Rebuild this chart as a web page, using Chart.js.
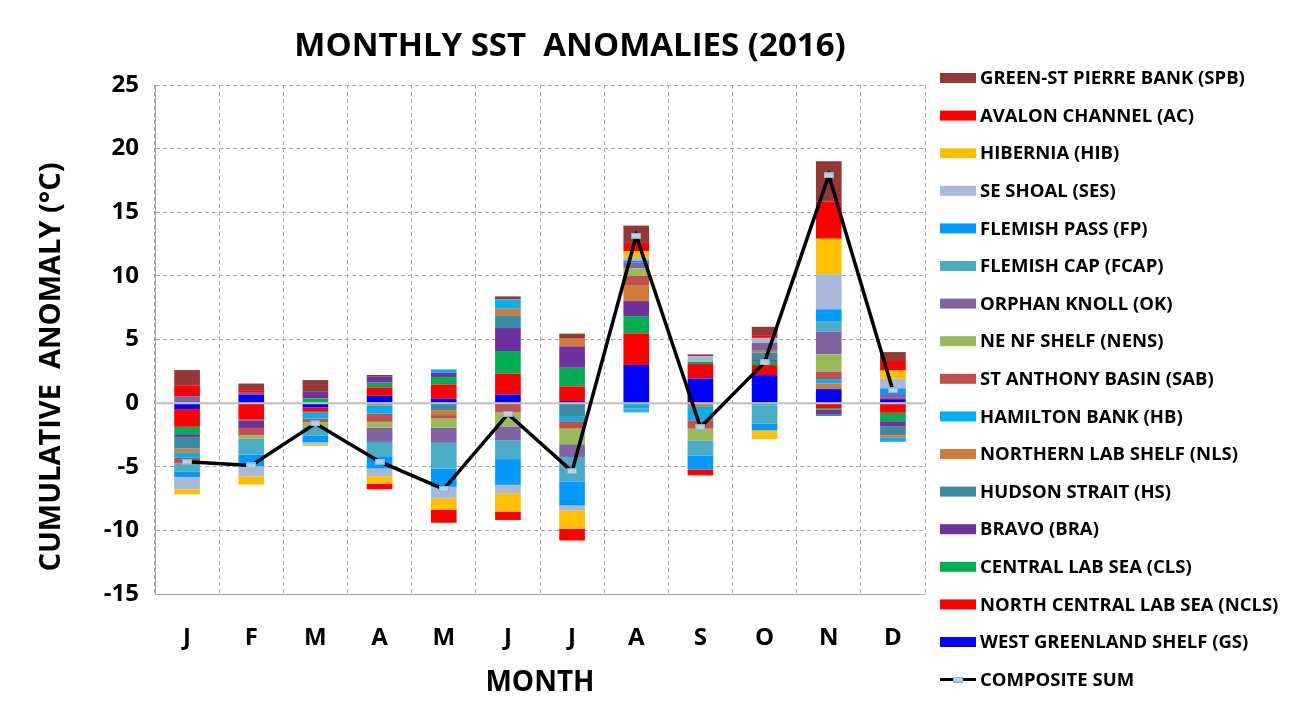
<!DOCTYPE html>
<html>
<head>
<meta charset="utf-8">
<script src="https://cdn.jsdelivr.net/npm/chart.js@4.4.1/dist/chart.umd.min.js"></script>
<style>
html, body { margin: 0; padding: 0; background: #fff; }
</style>
</head>
<body>
<canvas id="sstChart" width="1290" height="706"></canvas>
<script>
// Monthly SST anomalies 2016, one array per region (bottom of the stack first)
var months = ['J', 'F', 'M', 'A', 'M', 'J', 'J', 'A', 'S', 'O', 'N', 'D'];
var yTicks = [-15, -10, -5, 0, 5, 10, 15, 20, 25];

var gs   = [-0.47, 0.68, -0.34, 0.58, 0.34, 0.68, 0.16, 2.99, 1.94, 2.20, 1.10, 0.31];
var ncls = [-1.39, -1.30, -0.34, 0.66, 1.13, 1.63, 1.15, 2.49, 1.13, 0.79, -0.39, -0.76];
var cls  = [-0.58, -0.05, 0.37, 0.37, 0.58, 1.78, 1.47, 1.36, 0.18, 0.26, -0.13, -0.66];
var bra  = [-0.21, -0.60, 0.52, 0.47, 0.34, 1.81, 1.68, 1.18, -0.10, 0.13, -0.34, -0.39];
var hs   = [-0.92, 0, -0.08, 0, -0.55, 1.00, -1.08, 0, 0, 0.60, -0.15, -0.71];
var nls  = [-0.34, 0, 0, -0.18, -0.39, 0.52, 0.66, 1.26, -0.20, 0.13, 0.45, -0.21];
var hb   = [-0.39, 0, -0.45, -0.63, 0.26, 0.73, -0.34, -0.42, -1.05, -0.20, 0.34, -0.31];
var sab  = [-0.44, -0.58, -0.27, -0.66, -0.26, -0.73, -0.58, 0.71, -0.66, 0, 0.58, 0.10];
var nens = [0, -0.26, -0.39, -0.45, -0.74, -1.10, -1.23, 0.60, -0.92, 0, 1.36, 0];
var ok   = [0.55, 0.13, 0, -1.13, -1.18, -1.10, -1.00, 0.44, 0, 0.63, 1.78, 0.30];
var fcap = [-0.66, -1.26, -0.66, -1.12, -2.02, -1.47, -1.92, -0.31, -1.18, -1.42, 0.84, 0];
var fp   = [-0.40, -0.91, -0.53, -0.97, -1.44, -2.02, -1.89, 0.18, -1.10, -0.52, 0.92, 0.45];
var ses  = [-0.97, -0.79, -0.18, -0.60, -0.92, -0.66, -0.39, 0.20, 0.45, 0.39, 2.76, 0.75];
var hib  = [-0.40, -0.65, -0.13, -0.58, -0.90, -1.44, -1.44, 0.52, 0, -0.68, 2.78, 0.65];
var ac   = [0.85, 0.21, 0, -0.45, -1.00, -0.66, -0.92, 0.66, -0.47, 0.21, 2.94, 0.75];
var spb  = [1.20, 0.52, 0.92, 0.13, 0, 0.24, 0.34, 1.36, 0.13, 0.66, 3.15, 0.70];

var compositeSum = [-4.6, -4.9, -1.6, -4.6, -6.75, -0.85, -5.35, 13.15, -1.9, 3.2, 17.9, 1.0];

var regions = [
    ['WEST GREENLAND SHELF (GS)', gs, '#0000FF'],
    ['NORTH CENTRAL LAB SEA (NCLS)', ncls, '#FF0000'],
    ['CENTRAL LAB SEA (CLS)', cls, '#00B050'],
    ['BRAVO (BRA)', bra, '#7030A0'],
    ['HUDSON STRAIT (HS)', hs, '#3A8BA1'],
    ['NORTHERN LAB SHELF (NLS)', nls, '#CF7B3A'],
    ['HAMILTON BANK (HB)', hb, '#00B0F0'],
    ['ST ANTHONY BASIN (SAB)', sab, '#C0504D'],
    ['NE NF SHELF (NENS)', nens, '#9BBB59'],
    ['ORPHAN KNOLL (OK)', ok, '#8064A2'],
    ['FLEMISH CAP (FCAP)', fcap, '#4BACC6'],
    ['FLEMISH PASS (FP)', fp, '#0099FF'],
    ['SE SHOAL (SES)', ses, '#A8B9D9'],
    ['HIBERNIA (HIB)', hib, '#FFC000'],
    ['AVALON CHANNEL (AC)', ac, '#FF0000'],
    ['GREEN-ST PIERRE BANK (SPB)', spb, '#953735']
];

// little light blue dash used as the composite marker
function makeMarker() {
    var c = document.createElement('canvas');
    c.width = 10;
    c.height = 6;
    var g = c.getContext('2d');
    g.fillStyle = '#B7D3E8';
    g.fillRect(0, 0, 10, 6);
    g.strokeStyle = '#8FAFC6';
    g.lineWidth = 1;
    g.strokeRect(0.5, 0.5, 9, 5);
    return c;
}
var marker = makeMarker();

var FONT = '"Open Sans", "DejaVu Sans", sans-serif';

// zero line sits over the bars but under the composite line
var zeroLine = {
    id: 'zeroLine',
    beforeDatasetDraw: function(chart, args) {
        if (args.index !== 0) return;
        var y = chart.scales.y.getPixelForValue(0);
        var area = chart.chartArea;
        var ctx = chart.ctx;
        ctx.save();
        ctx.strokeStyle = '#BFBFBF';
        ctx.lineWidth = 2;
        ctx.beginPath();
        ctx.moveTo(area.left, y);
        ctx.lineTo(area.right, y);
        ctx.stroke();
        ctx.restore();
    }
};

// title, y axis title and the side legend
var texts = {
    id: 'texts',
    afterDraw: function(chart) {
        var ctx = chart.ctx;
        var area = chart.chartArea;
        ctx.save();
        ctx.fillStyle = '#000';
        ctx.textAlign = 'center';
        ctx.textBaseline = 'middle';
        ctx.font = 'bold 33px ' + FONT;
        ctx.fillText('MONTHLY SST  ANOMALIES (2016)', 570, 47);

        ctx.save();
        ctx.translate(52, 367);
        ctx.rotate(-Math.PI / 2);
        ctx.font = 'bold 29px ' + FONT;
        ctx.fillText('CUMULATIVE  ANOMALY (\u00B0C)', 0, 0);
        ctx.restore();

        // legend, reversed like Excel does for stacked columns
        var sets = chart.data.datasets;
        var x = area.right + 15;
        var y = 78;
        var step = 37.6;
        ctx.textAlign = 'left';
        ctx.font = 'bold 18.5px ' + FONT;
        for (var i = sets.length - 1; i >= 1; i--) {
            ctx.fillStyle = sets[i].backgroundColor;
            ctx.fillRect(x, y - 5, 36, 10);
            ctx.fillStyle = '#000';
            ctx.fillText(sets[i].label, x + 40, y + 1);
            y += step;
        }
        ctx.strokeStyle = '#000';
        ctx.lineWidth = 3;
        ctx.beginPath();
        ctx.moveTo(x, y);
        ctx.lineTo(x + 36, y);
        ctx.stroke();
        ctx.drawImage(marker, x + 13, y - 3);
        ctx.fillStyle = '#000';
        ctx.fillText(sets[0].label, x + 40, y + 1);
        ctx.restore();
    }
};

function buildDatasets() {
    var list = [{
        type: 'line',
        label: 'COMPOSITE SUM',
        data: compositeSum,
        stack: 'sum',
        borderColor: '#000',
        backgroundColor: '#000',
        borderWidth: 3.5,
        pointStyle: marker,
        pointRadius: 5,
        tension: 0,
        fill: false
    }];
    for (var i = 0; i < regions.length; i++) {
        list.push({
            type: 'bar',
            label: regions[i][0],
            data: regions[i][1],
            stack: 'anom',
            backgroundColor: regions[i][2],
            borderWidth: 0,
            barPercentage: 0.4,
            categoryPercentage: 1
        });
    }
    return list;
}

function initializeChart() {
    var ctx = document.getElementById('sstChart').getContext('2d');
    new Chart(ctx, {
        data: {
            labels: months,
            datasets: buildDatasets()
        },
        plugins: [zeroLine, texts],
        options: {
            responsive: false,
            animation: false,
            layout: { padding: { left: 36, right: 365, top: 85, bottom: 5 } },
            plugins: {
                legend: { display: false },
                title: { display: false },
                tooltip: { enabled: false }
            },
            scales: {
                x: {
                    stacked: true,
                    grid: {
                        offset: true,
                        drawTicks: false,
                        color: '#A6A6A6',
                        lineWidth: 1
                    },
                    border: { display: true, color: '#A6A6A6', width: 1, dash: [4, 3] },
                    ticks: {
                        padding: 30,
                        color: '#000',
                        font: { family: FONT, size: 24, weight: 'bold' }
                    },
                    title: {
                        display: true,
                        text: 'MONTH',
                        color: '#000',
                        padding: { top: 0, bottom: 1 },
                        font: { family: FONT, size: 28, weight: 'bold' }
                    },
                    afterFit: function(scale) { scale.height = 107; }
                },
                y: {
                    stacked: true,
                    min: -15,
                    max: 25,
                    afterBuildTicks: function(scale) {
                        scale.ticks = yTicks.map(function(v) { return { value: v }; });
                    },
                    grid: {
                        drawTicks: false,
                        color: function(c) { return c.tick && c.tick.value === 0 ? 'rgba(0,0,0,0)' : '#A6A6A6'; },
                        lineWidth: 1
                    },
                    border: { display: true, color: '#A6A6A6', width: 1, dash: [4, 3] },
                    ticks: {
                        padding: 16,
                        color: '#000',
                        font: { family: FONT, size: 24, weight: 'bold' }
                    },
                    afterFit: function(scale) { scale.width = 119; }
                }
            }
        }
    });
}

document.addEventListener('DOMContentLoaded', initializeChart);
</script>
</body>
</html>
